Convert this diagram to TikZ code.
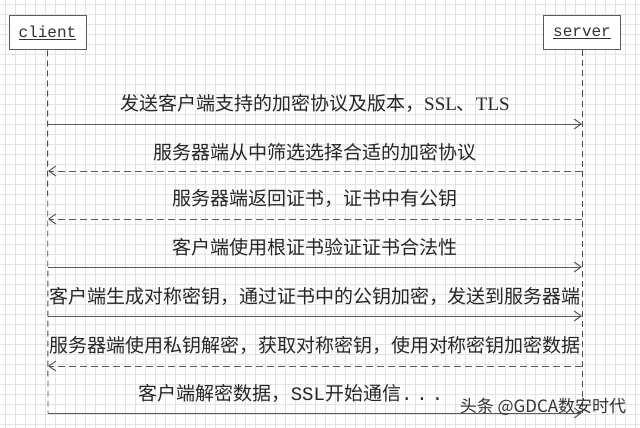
\documentclass[tikz,border=0pt]{standalone}
\usepackage{fontspec}
\setmainfont{Liberation Serif}
\newfontfamily\cjk{Noto Sans CJK SC}
\newfontfamily\monof{Liberation Mono}
\usetikzlibrary{arrows.meta}
\begin{document}
\begin{tikzpicture}[x=1pt,y=-1pt,
 msg/.style={font=\cjk\fontsize{19}{19}\selectfont, text=black!85, inner sep=0pt, anchor=center},
 actor/.style={draw=black!65, line width=1pt, minimum width=77pt, minimum height=34pt, fill=white, inner sep=0pt, font=\monof\fontsize{16}{16}\selectfont, text=black!80},
 life/.style={draw=black!70, line width=0.9pt, dash pattern=on 6pt off 4pt},
 call/.style={draw=black!65, line width=1pt, -{Straight Barb[length=7pt,width=10pt]}},
 reply/.style={call, dash pattern=on 7pt off 4pt},
 gridline/.style={draw=gray!22, line width=0.4pt}]
\fill[white] (0,0) rectangle (640,428);
\useasboundingbox (0,0) rectangle (640,428);
\foreach \gx in {5,15,...,635} {\draw[gridline] (\gx,0) -- (\gx,428);}
\foreach \gy in {4,14,...,424} {\draw[gridline] (0,\gy) -- (640,\gy);}

\node[actor] (client) at (47.5,33) {\underline{client}};
\node[actor] (server) at (582,33) {\underline{server}};
\coordinate (cend) at (48,413);
\coordinate (send) at (582,413);
\draw[life] (client.south) -- (cend);
\draw[life] (server.south) -- (send);

\foreach \i/\yy in {1/124,2/171,3/219,4/267,5/316,6/366,7/413} {
  \coordinate (c\i) at (48,\yy);
  \coordinate (s\i) at (582,\yy);
}

\node[msg] (t1) at (315,103) {发送客户端支持的加密协议及版本，{\rmfamily SSL}、{\rmfamily TLS}};
\node[msg] (t2) at (315,152) {服务器端从中筛选选择合适的加密协议};
\node[msg] (t3) at (315,199) {服务器端返回证书，证书中有公钥};
\node[msg] (t4) at (315,247) {客户端使用根证书验证证书合法性};
\node[msg] (t5) at (315,296) {客户端生成对称密钥，通过证书中的公钥加密，发送到服务器端};
\node[msg] (t6) at (315,345) {服务器端使用私钥解密，获取对称密钥，使用对称密钥加密数据};
\node[msg] (t7) at (291,393) {客户端解密数据，{\monof SSL}开始通信{\monof .\hspace{4pt}.\hspace{4pt}.}};

\draw[call] (c1) -- (s1);
\draw[reply] (s2) -- (c2);
\draw[reply] (s3) -- (c3);
\draw[call] (c4) -- (s4);
\draw[call] (c5) -- (s5);
\draw[reply] (s6) -- (c6);
\draw[call] (c7) -- (s7);

\node[font=\cjk\fontsize{17}{17}\selectfont, text=black!80, inner sep=0pt] (wm) at (543,407) {头条 @GDCA数安时代};
\end{tikzpicture}
\end{document}
